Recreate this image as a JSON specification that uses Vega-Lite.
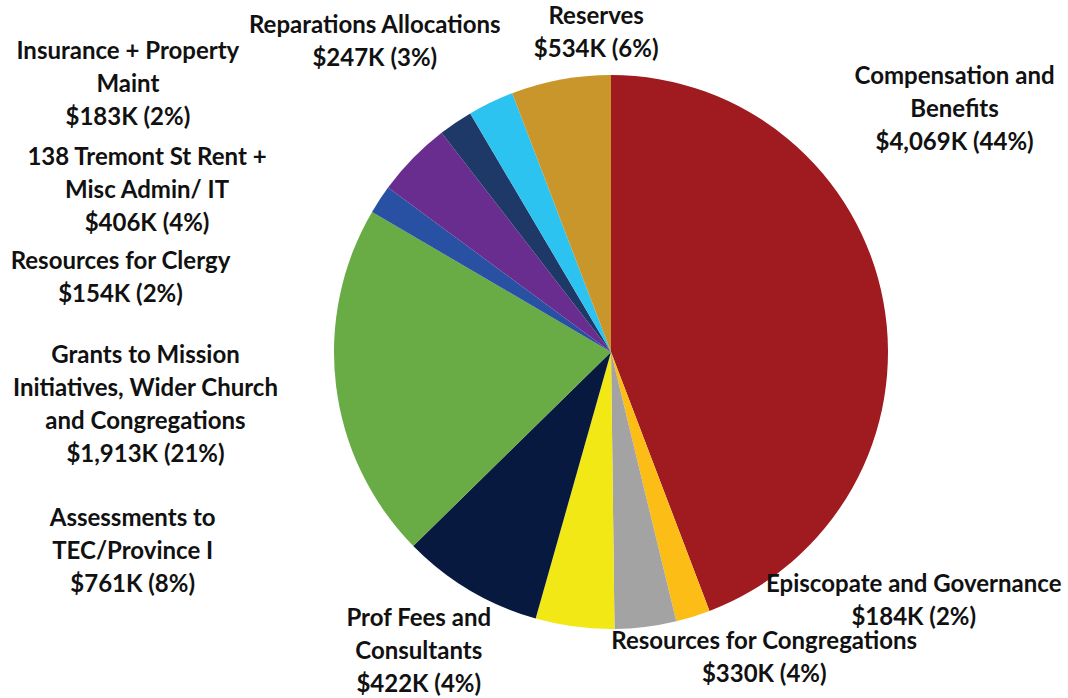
{
  "$schema": "https://vega.github.io/schema/vega-lite/v6.json",
  "width": 914,
  "height": 692,
  "autosize": {"type": "none"},
  "padding": {"left": 154, "top": 6, "right": 0, "bottom": 0},
  "background": "white",
  "data": {
    "values": [
      {"order": 1, "category": "Compensation and Benefits", "value": 4069, "label": "Compensation and\nBenefits\n$4,069K (44%)"},
      {"order": 2, "category": "Episcopate and Governance", "value": 184, "label": "Episcopate and Governance\n$184K (2%)"},
      {"order": 3, "category": "Resources for Congregations", "value": 330, "label": "Resources for Congregations\n$330K (4%)"},
      {"order": 4, "category": "Prof Fees and Consultants", "value": 422, "label": "Prof Fees and\nConsultants\n$422K (4%)"},
      {"order": 5, "category": "Assessments to TEC/Province I", "value": 761, "label": "Assessments to\nTEC/Province I\n$761K (8%)"},
      {"order": 6, "category": "Grants to Mission Initiatives, Wider Church and Congregations", "value": 1913, "label": "Grants to Mission\nInitiatives, Wider Church\nand Congregations\n$1,913K (21%)"},
      {"order": 7, "category": "Resources for Clergy", "value": 154, "label": "Resources for Clergy\n$154K (2%)"},
      {"order": 8, "category": "138 Tremont St Rent + Misc Admin/ IT", "value": 406, "label": "138 Tremont St Rent +\nMisc Admin/ IT\n$406K (4%)"},
      {"order": 9, "category": "Insurance + Property Maint", "value": 183, "label": "Insurance + Property\nMaint\n$183K (2%)"},
      {"order": 10, "category": "Reparations Allocations", "value": 247, "label": "Reparations Allocations\n$247K (3%)"},
      {"order": 11, "category": "Reserves", "value": 534, "label": "Reserves\n$534K (6%)"}
    ]
  },
  "encoding": {
    "theta": {"field": "value", "type": "quantitative", "stack": true},
    "order": {"field": "order", "type": "quantitative"}
  },
  "layer": [
    {
      "mark": {"type": "arc", "outerRadius": 277},
      "encoding": {
        "color": {
          "field": "category",
          "type": "nominal",
          "legend": null,
          "scale": {
            "domain": ["Compensation and Benefits", "Episcopate and Governance", "Resources for Congregations", "Prof Fees and Consultants", "Assessments to TEC/Province I", "Grants to Mission Initiatives, Wider Church and Congregations", "Resources for Clergy", "138 Tremont St Rent + Misc Admin/ IT", "Insurance + Property Maint", "Reparations Allocations", "Reserves"],
            "range": ["#9f1b20", "#fcbd16", "#a3a3a3", "#f1e815", "#08193f", "#69ab45", "#2850a3", "#682d8e", "#1e3868", "#2dc3f0", "#c9962b"]
          }
        }
      }
    },
    {"mark": {"type": "text", "radius": 330, "dx": 19, "dy": -215}, "encoding": {"detail": {"field": "category"}, "text": {"condition": {"test": "datum.order === 1", "field": "label"}, "value": ""}}},
    {"mark": {"type": "text", "radius": 330, "dx": 205, "dy": -82}, "encoding": {"detail": {"field": "category"}, "text": {"condition": {"test": "datum.order === 2", "field": "label"}, "value": ""}}},
    {"mark": {"type": "text", "radius": 330, "dx": 112, "dy": -37}, "encoding": {"detail": {"field": "category"}, "text": {"condition": {"test": "datum.order === 3", "field": "label"}, "value": ""}}},
    {"mark": {"type": "text", "radius": 330, "dx": -149, "dy": -60}, "encoding": {"detail": {"field": "category"}, "text": {"condition": {"test": "datum.order === 4", "field": "label"}, "value": ""}}},
    {"mark": {"type": "text", "radius": 330, "dx": -310, "dy": -117}, "encoding": {"detail": {"field": "category"}, "text": {"condition": {"test": "datum.order === 5", "field": "label"}, "value": ""}}},
    {"mark": {"type": "text", "radius": 330, "dx": -138, "dy": -36}, "encoding": {"detail": {"field": "category"}, "text": {"condition": {"test": "datum.order === 6", "field": "label"}, "value": ""}}},
    {"mark": {"type": "text", "radius": 330, "dx": -215, "dy": 92}, "encoding": {"detail": {"field": "category"}, "text": {"condition": {"test": "datum.order === 7", "field": "label"}, "value": ""}}},
    {"mark": {"type": "text", "radius": 330, "dx": -228, "dy": 37}, "encoding": {"detail": {"field": "category"}, "text": {"condition": {"test": "datum.order === 8", "field": "label"}, "value": ""}}},
    {"mark": {"type": "text", "radius": 330, "dx": -298, "dy": -27}, "encoding": {"detail": {"field": "category"}, "text": {"condition": {"test": "datum.order === 9", "field": "label"}, "value": ""}}},
    {"mark": {"type": "text", "radius": 330, "dx": -93, "dy": -29}, "encoding": {"detail": {"field": "category"}, "text": {"condition": {"test": "datum.order === 10", "field": "label"}, "value": ""}}},
    {"mark": {"type": "text", "radius": 330, "dx": 45, "dy": -10}, "encoding": {"detail": {"field": "category"}, "text": {"condition": {"test": "datum.order === 11", "field": "label"}, "value": ""}}}
  ],
  "config": {
    "view": {"stroke": null},
    "text": {"font": "Lato", "fontWeight": "bold", "fontSize": 24, "lineHeight": 33, "lineBreak": "\n", "color": "#111111", "align": "center", "baseline": "middle"}
  }
}
